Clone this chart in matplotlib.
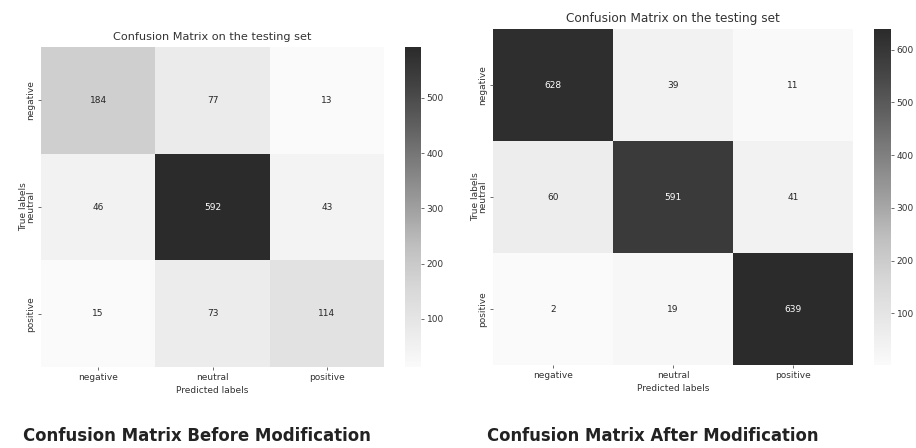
import numpy as np
import matplotlib
matplotlib.use("Agg")
import matplotlib.pyplot as plt
from matplotlib.colors import ListedColormap
from matplotlib import font_manager
from matplotlib.font_manager import FontProperties
import seaborn as sns

# Class names and confusion-matrix counts
labels = ["negative", "neutral", "positive"]
cm_before = [[184, 77, 13],
             [46, 592, 43],
             [15, 73, 114]]
cm_after = [[628, 39, 11],
            [60, 591, 41],
            [2, 19, 639]]
captions = ["Confusion Matrix Before Modification",
            "Confusion Matrix After Modification"]
title = "Confusion Matrix on the testing set"

# Greyscale version of the "Blues" map (luminance of each colour)
blues = plt.get_cmap("Blues")(np.linspace(0, 1, 256))
lum = 0.299 * blues[:, 0] + 0.587 * blues[:, 1] + 0.114 * blues[:, 2]
grey_blues = ListedColormap(np.stack([lum, lum, lum, np.ones_like(lum)], axis=1))

# Caption font: a bold condensed face when one is available
cap_file = None
for f in font_manager.fontManager.ttflist:
    w = f.weight if isinstance(f.weight, int) else 400
    if ("ondensed" in f.name or "Narrow" in f.name or
            f.stretch in ("condensed", "semi-condensed")) and \
            (w >= 600 or "Bold" in f.fname) and "Oblique" not in f.fname \
            and "Italic" not in f.fname:
        cap_file = f.fname
        break
if cap_file:
    cap_prop = FontProperties(fname=cap_file)
else:
    cap_prop = FontProperties(family="Roboto", weight="bold")

W, H = 916, 448
fig = plt.figure(figsize=(W / 100, H / 100), dpi=100)


def box(x0, y0, x1, y1):
    return [x0 / W, 1 - y1 / H, (x1 - x0) / W, (y1 - y0) / H]


panels = [
    (cm_before, box(41, 47, 384, 367), box(405, 47, 421, 367), 8.1),
    (cm_after, box(493, 29, 853, 365), box(874, 29, 891, 365), 8.7),
]

for data, ax_box, cb_box, tsize in panels:
    ax = fig.add_axes(ax_box)
    cax = fig.add_axes(cb_box)
    sns.heatmap(np.array(data), annot=True, fmt="d", cmap=grey_blues,
                xticklabels=labels, yticklabels=labels, ax=ax, cbar_ax=cax,
                annot_kws={"fontsize": 6.5})
    ax.set_title(title, fontsize=tsize, color="#333333", pad=5)
    ax.set_xlabel("Predicted labels", fontsize=6.5, color="#333333", labelpad=3)
    ax.set_ylabel("True labels", fontsize=6.5, color="#333333", labelpad=-1)
    ax.tick_params(axis="both", labelsize=6.5, length=2, width=0.6,
                   colors="#555555", labelcolor="#333333", pad=2)
    for t in ax.get_yticklabels():
        t.set_rotation(90)
        t.set_va("center")
    cax.tick_params(labelsize=6.5, length=2, width=0.6, colors="#555555",
                    labelcolor="#333333", pad=2)

# Captions under each panel, sized to their target widths
renderer = fig.canvas.get_renderer()
for text, x0, x1 in [(captions[0], 23, 370), (captions[1], 487, 818)]:
    t = fig.text(x0 / W, 1 - 436 / H, text, fontproperties=cap_prop,
                 fontsize=13, color="#222222", ha="left", va="center")
    width = t.get_window_extent(renderer).width
    t.set_fontsize(13 * (x1 - x0) / width)

fig.savefig("out.png", dpi=100)
